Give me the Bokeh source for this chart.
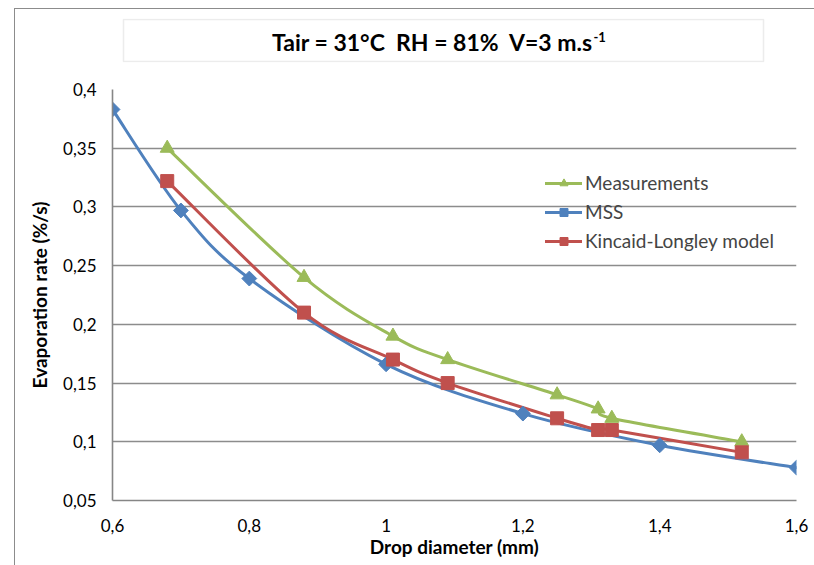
from bokeh.plotting import figure
from bokeh.layouts import column
from bokeh.models import (FixedTicker, CustomJSTickFormatter, Label, BoxAnnotation,
                          Legend, LegendItem, Range1d)
from bokeh.embed import file_html
from bokeh.resources import INLINE

# ---------------- data ----------------
meas_x = [0.68, 0.88, 1.01, 1.09, 1.25, 1.31, 1.33, 1.52]
meas_y = [0.35, 0.24, 0.19, 0.17, 0.14, 0.128, 0.12, 0.10]
kl_x = [0.68, 0.88, 1.01, 1.09, 1.25, 1.31, 1.33, 1.52]
kl_y = [0.322, 0.21, 0.17, 0.15, 0.12, 0.11, 0.11, 0.091]
mss_x = [0.6, 0.7, 0.8, 1.0, 1.2, 1.4, 1.6]
mss_y = [0.383, 0.297, 0.239, 0.166, 0.124, 0.097, 0.078]
x_ticks = [0.6, 0.8, 1.0, 1.2, 1.4, 1.6]
y_ticks = [0.05, 0.1, 0.15, 0.2, 0.25, 0.3, 0.35, 0.4]
series_names = ["Measurements", "MSS", "Kincaid-Longley model"]
title_main = "Tair = 31°C \u00a0RH = 81% \u00a0V=3 m.s"
title_sup = "-1"
x_label = "Drop diameter (mm)"
y_label = "Evaporation rate (%/s)"

GREEN = "#9BBB59"
BLUE = "#4F81BD"
RED = "#C0504D"
GRID = "#8c8c8c"
FONT = "Lato"

W = 799
LEFT, RIGHT = 97, 18
FRAME_W = W - LEFT - RIGHT  # 684

# ---------------- title strip (same horizontal frame as the chart) ----------------
TH = 61
tfig = figure(width=W, height=TH, output_backend="svg", toolbar_location=None,
              x_range=Range1d(0, FRAME_W), y_range=Range1d(-1, 43),
              min_border_left=LEFT, min_border_right=RIGHT,
              min_border_top=9, min_border_bottom=8,
              x_axis_location=None, y_axis_location=None)
tfig.grid.visible = False
tfig.outline_line_color = None
tfig.background_fill_color = "white"
tfig.border_fill_color = "white"
tfig.add_layout(BoxAnnotation(left=11, right=651, bottom=0, top=42,
                              fill_color="white", fill_alpha=1,
                              line_color="#bfbfbf", line_width=1.5))
tfig.add_layout(Label(x=480, y=20, text=title_main, text_font=FONT,
                      text_font_size="23px", text_font_style="bold",
                      text_align="right", text_baseline="middle",
                      text_color="black"))
tfig.add_layout(Label(x=481, y=25, text=title_sup, text_font=FONT,
                      text_font_size="13px", text_font_style="bold",
                      text_align="left", text_baseline="middle",
                      text_color="black"))

# ---------------- main chart ----------------
H = 556 - TH
TOP = 19
BOTTOM = H - TOP - 411

p = figure(width=W, height=H, output_backend="svg", toolbar_location=None,
           x_range=Range1d(0.6, 1.6), y_range=Range1d(0.05, 0.4),
           min_border_left=LEFT, min_border_right=RIGHT,
           min_border_top=TOP, min_border_bottom=BOTTOM)
p.outline_line_color = None
p.background_fill_color = "white"
p.border_fill_color = "white"

fmt = CustomJSTickFormatter(code="return String(Math.round(tick*100)/100).replace('.', ',');")
for ax, ticks in ((p.xaxis[0], x_ticks), (p.yaxis[0], y_ticks)):
    ax.ticker = FixedTicker(ticks=ticks)
    ax.formatter = fmt
    ax.axis_line_color = "#868686"
    ax.axis_line_width = 1.6
    ax.major_tick_out = 0
    ax.major_tick_in = 0
    ax.minor_tick_out = 0
    ax.minor_tick_in = 0
    ax.major_label_text_font = FONT
    ax.major_label_text_font_size = "17px"
    ax.major_label_text_color = "black"
    ax.axis_label_text_font = FONT
    ax.axis_label_text_font_size = "19px"
    ax.axis_label_text_font_style = "bold"
    ax.axis_label_text_color = "black"

p.xaxis.axis_label = x_label
p.yaxis.axis_label = y_label
p.xaxis.major_label_standoff = 18
p.xaxis.axis_label_standoff = 0
p.yaxis.major_label_standoff = 16
p.yaxis.axis_label_standoff = 9

p.xgrid.grid_line_color = None
p.ygrid.grid_line_color = GRID
p.ygrid.grid_line_width = 1.5


def smooth(xs, ys):
    """Catmull-Rom style cubic Bezier control points (Excel smoothed line)."""
    n = len(xs)
    d = dict(x0=[], y0=[], x1=[], y1=[], cx0=[], cy0=[], cx1=[], cy1=[])
    for i in range(n - 1):
        a = i - 1 if i > 0 else i
        b = i + 2 if i + 2 < n else i + 1
        d["x0"].append(xs[i]); d["y0"].append(ys[i])
        d["x1"].append(xs[i + 1]); d["y1"].append(ys[i + 1])
        d["cx0"].append(xs[i] + (xs[i + 1] - xs[a]) / 6)
        d["cy0"].append(ys[i] + (ys[i + 1] - ys[a]) / 6)
        d["cx1"].append(xs[i + 1] - (xs[b] - xs[i]) / 6)
        d["cy1"].append(ys[i + 1] - (ys[b] - ys[i]) / 6)
    return d


specs = [
    (meas_x, meas_y, GREEN, dict(marker="triangle", size=14)),
    (mss_x, mss_y, BLUE, dict(marker="square", size=10.5, angle=0.785398)),
    (kl_x, kl_y, RED, dict(marker="square", size=13)),
]
line_renderers = []
marker_renderers = []
for xs, ys, col, mk in specs:
    lr = p.bezier(line_color=col, line_width=3, line_cap="round", **smooth(xs, ys))
    line_renderers.append(lr)
for (xs, ys, col, mk) in specs:
    mr = p.scatter(xs, ys, fill_color=col, line_color=col, line_width=1, **mk)
    marker_renderers.append(mr)

items = [LegendItem(label=name, renderers=[lr, mr])
         for name, lr, mr in zip(series_names, line_renderers, marker_renderers)]

legend = Legend(items=items, location=(433, 248), glyph_width=37, glyph_height=20,
                spacing=6, padding=0, margin=0, label_standoff=3,
                label_text_font=FONT, label_text_font_size="19px",
                background_fill_alpha=0, border_line_color=None)
p.add_layout(legend, "center")

layout = column(tfig, p, spacing=0)
# outer chart-area border (left and top edges visible in the window)
layout.styles = {"margin-left": "14px", "margin-top": "8px",
                 "border-left": "1px solid #8c8c8c", "border-top": "1px solid #8c8c8c"}

open("out.html", "w").write(file_html(layout, INLINE))
